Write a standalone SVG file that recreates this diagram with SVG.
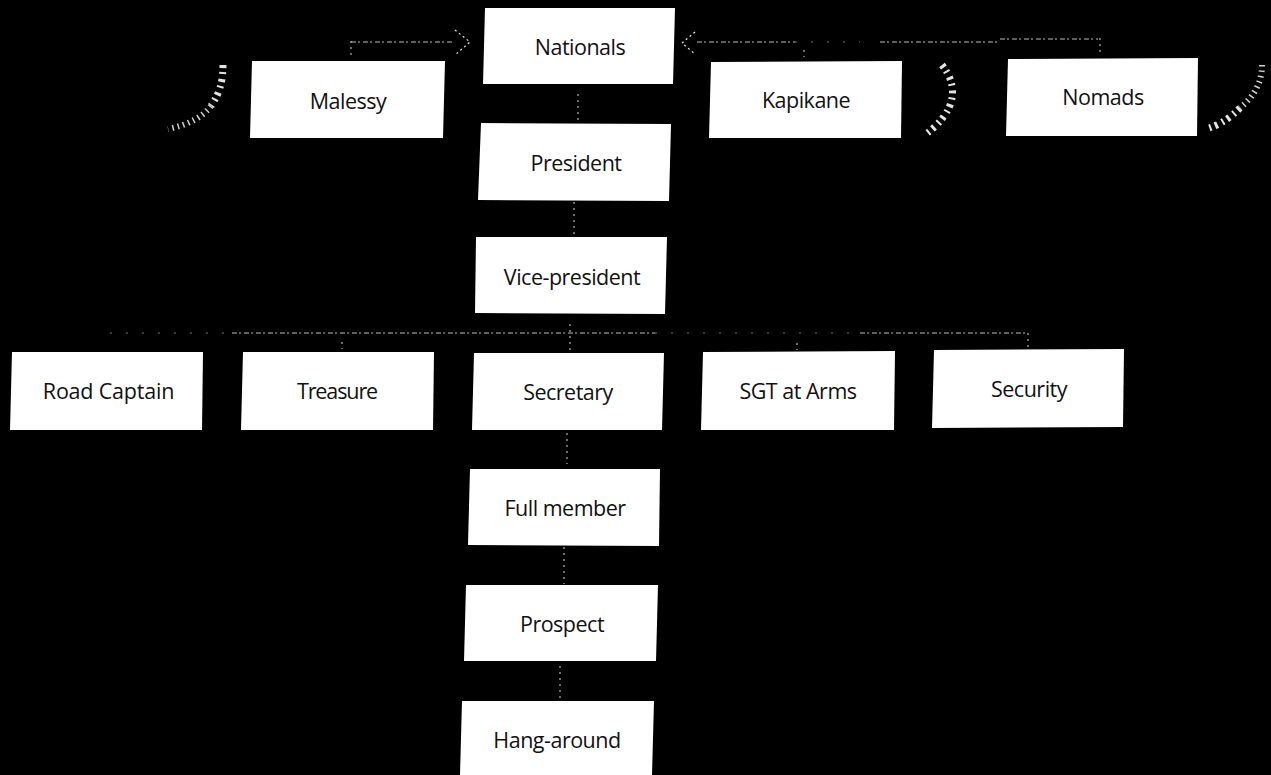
<svg xmlns="http://www.w3.org/2000/svg" width="1271" height="775" viewBox="0 0 1271 775">
<style>
.b{fill:#fff}
.t{font-family:"Open Sans","Noto Sans","Liberation Sans",sans-serif;font-size:21.5px;fill:#111;text-anchor:middle;letter-spacing:-.5px}
.c{fill:none;stroke:#bdbdbd;stroke-width:1.2;stroke-dasharray:5 2 2 3}
.f{fill:none;stroke:#777;stroke-width:1;stroke-dasharray:2 14}
.v{fill:none;stroke:#b5b5b5;stroke-width:1.2;stroke-dasharray:2 4}
.h{fill:none;stroke:#e8e8e8;stroke-width:1.2;stroke-dasharray:2 3}
.l{fill:none;stroke:#e4e4e4;stroke-width:7;stroke-dasharray:3 4 2 5}
.m{fill:none;stroke:#d0d0d0;stroke-width:6;stroke-dasharray:1.5 4}
</style>
<rect width="1271" height="775" fill="#000"/>
<g id="connectors">
<path class="v" d="M351 41V58"/><path class="c" d="M351 42H452"/><path class="h" d="M455 30L470 42L455 55"/>
<path class="c" d="M697 42H795"/><path class="f" d="M795 42H860"/><path class="c" d="M880 42H1000"/><path class="c" d="M1000 39H1098"/>
<path class="h" d="M695 32L682 43L695 54"/><path class="v" d="M1100 38V56"/><path class="v" d="M804 50V57"/>
<path class="v" d="M578 94V122"/><path class="v" d="M574 202V235"/><path class="v" d="M570 324V351"/>
<path class="f" d="M110 333H230"/><path class="c" d="M232 333H655"/><path class="f" d="M655 333H860"/><path class="c" d="M860 333H1025"/>
<path class="v" d="M1028 333V347"/><path class="v" d="M342 342V349"/><path class="v" d="M797 343V350"/>
<path class="v" d="M567 433V464"/><path class="v" d="M564 547V584"/><path class="v" d="M560 666V699"/>
<path class="l" d="M223 65C223 80 220 93 211 106"/><path class="m" d="M211 106C203 117 188 125 168 129"/>
<path class="l" d="M942 65C958 85 958 110 926 134"/>
<path class="m" d="M1262 65C1262 80 1256 95 1240 108"/><path class="l" d="M1240 108C1230 118 1220 125 1206 129"/>
</g>
<g id="n-nationals"><polygon class="b" points="485,8 675,8 673,84 483,84"/><text class="t" x="580" y="55">Nationals</text></g>
<g id="n-malessy"><polygon class="b" points="252,61 445,61 443,138 250,138"/><text class="t" x="348" y="109">Malessy</text></g>
<g id="n-kapikane"><polygon class="b" points="711,62 902,61 901,138 709,138"/><text class="t" x="806" y="108">Kapikane</text></g>
<g id="n-nomads"><polygon class="b" points="1008,59 1198,58 1197,136 1006,136"/><text class="t" x="1103" y="105">Nomads</text></g>
<g id="n-president"><polygon class="b" points="481,123 671,124 669,201 478,200"/><text class="t" x="576" y="171">President</text></g>
<g id="n-vice-president"><polygon class="b" points="476,237 667,237 665,314 475,313"/><text class="t" x="572" y="285">Vice-president</text></g>
<g id="n-road-captain"><polygon class="b" points="12,352 203,352 202,430 10,430"/><text class="t" x="108.500" y="399" style="letter-spacing:-.2px">Road Captain</text></g>
<g id="n-treasure"><polygon class="b" points="243,352 434,352 433,430 241,430"/><text class="t" x="337" y="399" style="letter-spacing:-1.1px">Treasure</text></g>
<g id="n-secretary"><polygon class="b" points="474,353 664,353 662,430 472,430"/><text class="t" x="568" y="400">Secretary</text></g>
<g id="n-sgt-at-arms"><polygon class="b" points="703,352 895,351 894,430 701,430"/><text class="t" x="798" y="399">SGT at Arms</text></g>
<g id="n-security"><polygon class="b" points="934,350 1124,349 1123,427 932,428"/><text class="t" x="1029" y="397">Security</text></g>
<g id="n-full-member"><polygon class="b" points="470,469 660,469 659,546 468,545"/><text class="t" x="565" y="516">Full member</text></g>
<g id="n-prospect"><polygon class="b" points="466,585 658,585 656,661 464,661"/><text class="t" x="562" y="632">Prospect</text></g>
<g id="n-hang-around"><polygon class="b" points="462,701 654,701 652,775 460,775"/><text class="t" x="557" y="748">Hang-around</text></g>
</svg>
